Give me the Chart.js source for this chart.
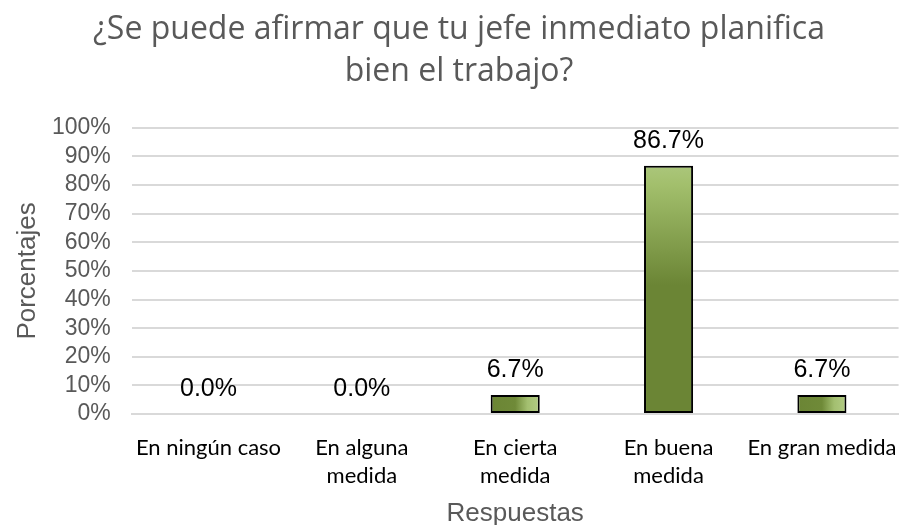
<!DOCTYPE html>
<html>
<head>
<meta charset="utf-8">
<script src="https://cdn.jsdelivr.net/npm/chart.js@4/dist/chart.umd.min.js"></script>
<style>
  body { margin: 0; background: #fff; }
  #wrap { width: 909px; height: 525px; }
</style>
</head>
<body>
<div id="wrap"><canvas id="grafico"></canvas></div>
<script>
const categorias = [
    'En ningún caso',
    ['En alguna', 'medida'],
    ['En cierta', 'medida'],
    ['En buena', 'medida'],
    'En gran medida'
];
const porcentajes = [0.0, 0.0, 6.7, 86.7, 6.7];
const ticksY = [0, 10, 20, 30, 40, 50, 60, 70, 80, 90, 100];

const ANCHO_BARRA = 0.32;

// etiquetas encima de las barras (sin plugin externo)
const etiquetas = {
    id: 'etiquetas',
    afterDatasetsDraw(chart) {
        const c = chart.ctx;
        const meta = chart.getDatasetMeta(0);
        c.save();
        c.font = '25px "Liberation Sans", Arial, sans-serif';
        c.fillStyle = '#000';
        c.textAlign = 'center';
        c.textBaseline = 'alphabetic';
        meta.data.forEach((bar, i) => {
            const v = chart.data.datasets[0].data[i];
            c.fillText(v.toFixed(1) + '%', bar.x, bar.y - 18);
        });
        c.restore();
    }
};

function relleno(context) {
    const chart = context.chart;
    const area = chart.chartArea;
    const x = chart.scales.x;
    if (!area || !x) return '#6b8535';
    const v = context.raw;
    if (v > 50) {
        // barra alta: degradado vertical
        const g = chart.ctx.createLinearGradient(0, area.top, 0, area.bottom);
        g.addColorStop(0, '#bdd598');
        g.addColorStop(0.2, '#a2bf6c');
        g.addColorStop(0.55, '#6b8535');
        g.addColorStop(1, '#6b8535');
        return g;
    }
    // barras bajas: el brillo va a la derecha
    const cx = x.getPixelForValue(context.dataIndex);
    const w = (area.right - area.left) / chart.data.labels.length * ANCHO_BARRA;
    const g = chart.ctx.createLinearGradient(cx - w / 2, 0, cx + w / 2, 0);
    g.addColorStop(0, '#6b8535');
    g.addColorStop(0.5, '#6f8a38');
    g.addColorStop(0.75, '#a3bf70');
    g.addColorStop(1, '#b3cc85');
    return g;
}

new Chart(document.getElementById('grafico').getContext('2d'), {
    type: 'bar',
    data: {
        labels: categorias,
        datasets: [{
            data: porcentajes,
            backgroundColor: relleno,
            borderColor: '#000',
            borderWidth: 2,
            borderSkipped: false,
            barPercentage: ANCHO_BARRA,
            categoryPercentage: 1
        }]
    },
    options: {
        responsive: true,
        maintainAspectRatio: false,
        animation: false,
        layout: { padding: { left: 15, right: 6, top: 6, bottom: -3 } },
        plugins: {
            legend: { display: false },
            tooltip: { enabled: false },
            title: {
                display: true,
                text: ['¿Se puede afirmar que tu jefe inmediato planifica', 'bien el trabajo?'],
                color: '#595959',
                font: { family: '"Open Sans", sans-serif', size: 32, weight: 'normal', lineHeight: 1.34 },
                padding: { top: 2, bottom: 34 }
            }
        },
        scales: {
            x: {
                grid: { display: false },
                border: { color: '#d9d9d9', width: 2 },
                ticks: {
                    color: '#000',
                    maxRotation: 0,
                    autoSkip: false,
                    padding: 12,
                    font: { family: 'Lato, "Open Sans", sans-serif', size: 22, lineHeight: 1.27 }
                },
                title: {
                    display: true,
                    text: 'Respuestas',
                    color: '#595959',
                    font: { family: '"Liberation Sans", Arial, sans-serif', size: 26, lineHeight: 1.0 },
                    padding: { top: -1, bottom: 1 }
                }
            },
            y: {
                min: 0,
                max: 100,
                afterBuildTicks: axis => { axis.ticks = ticksY.map(v => ({ value: v })); },
                grid: { color: '#d9d9d9', lineWidth: 2, drawTicks: false },
                border: { display: false },
                ticks: {
                    color: '#595959',
                    autoSkip: false,
                    padding: 21,
                    font: { family: '"Liberation Sans", Arial, sans-serif', size: 23 },
                    callback: v => v + '%'
                },
                title: {
                    display: true,
                    text: 'Porcentajes',
                    color: '#595959',
                    font: { family: '"Liberation Sans", Arial, sans-serif', size: 26, lineHeight: 1.0 },
                    padding: { top: 0, bottom: -10 }
                }
            }
        }
    },
    plugins: [etiquetas]
});
</script>
</body>
</html>
